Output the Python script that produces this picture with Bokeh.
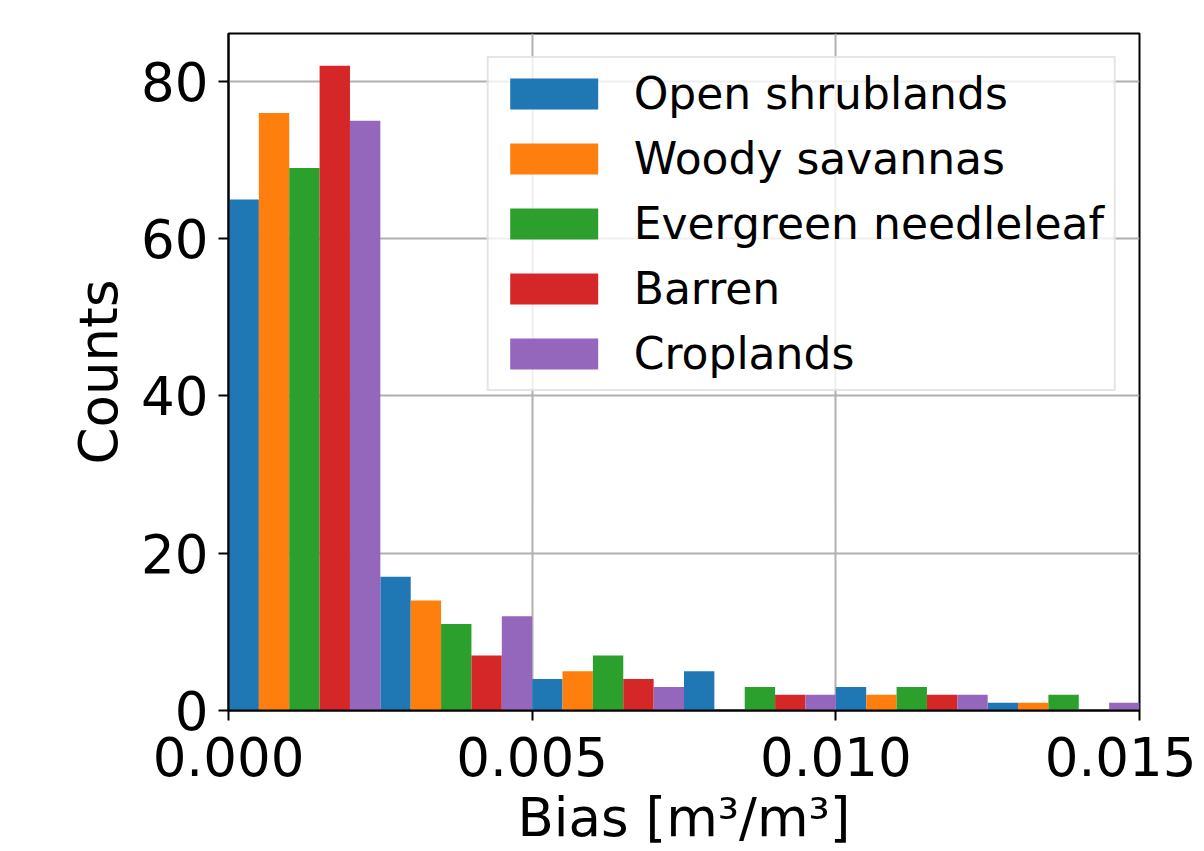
from bokeh.plotting import figure
from bokeh.models import Range1d, FixedTicker, PrintfTickFormatter, Legend, LegendItem, Label
from bokeh.embed import file_html
from bokeh.resources import INLINE

# ---- data ----
bin_edges = [0.0, 0.0025, 0.005, 0.0075, 0.01, 0.0125, 0.015]
series_names = ["Open shrublands", "Woody savannas", "Evergreen needleleaf", "Barren", "Croplands"]
open_shrublands = [65, 17, 4, 5, 3, 1]
woody_savannas = [76, 14, 5, 0, 2, 1]
evergreen_needleleaf = [69, 11, 7, 3, 3, 2]
barren = [82, 7, 4, 2, 2, 0]
croplands = [75, 12, 3, 2, 2, 1]
colors = ["#1f77b4", "#ff7f0e", "#2ca02c", "#d62728", "#9467bd"]
x_ticks = [0.0, 0.005, 0.010, 0.015]
y_ticks = [0, 20, 40, 60, 80]

series = [open_shrublands, woody_savannas, evergreen_needleleaf, barren, croplands]

FONT = "DejaVu Sans"

p = figure(frame_width=911, frame_height=677, output_backend="svg", toolbar_location=None,
           x_range=Range1d(0, 0.015), y_range=Range1d(0, 86.1),
           min_border_left=228, min_border_right=57, min_border_top=33, min_border_bottom=120)

n = len(series)
items = []
for i, (name, vals, c) in enumerate(zip(series_names, series, colors)):
    lefts, rights = [], []
    for k in range(len(vals)):
        bw = (bin_edges[k + 1] - bin_edges[k]) / n
        lefts.append(bin_edges[k] + i * bw)
        rights.append(bin_edges[k] + (i + 1) * bw)
    r = p.quad(left=lefts, right=rights, bottom=0, top=vals, fill_color=c, line_color=None)
    items.append(LegendItem(label=name, renderers=[r]))

# grid
p.xgrid.grid_line_color = "#b0b0b0"
p.ygrid.grid_line_color = "#b0b0b0"
p.xgrid.grid_line_width = 2
p.ygrid.grid_line_width = 2
p.xgrid.ticker = FixedTicker(ticks=x_ticks)
p.ygrid.ticker = FixedTicker(ticks=y_ticks)

# axes
p.xaxis.ticker = FixedTicker(ticks=x_ticks)
p.yaxis.ticker = FixedTicker(ticks=y_ticks)
p.xaxis.formatter = PrintfTickFormatter(format="%.3f")
p.xaxis.axis_label = "Bias [m³/m³]"
p.yaxis.axis_label = "Counts"
for ax in (p.xaxis[0], p.yaxis[0]):
    ax.axis_line_color = "black"
    ax.axis_line_width = 2
    ax.major_tick_line_color = "black"
    ax.major_tick_line_width = 2
    ax.major_tick_out = 10
    ax.major_tick_in = 0
    ax.minor_tick_line_color = None
    ax.major_label_text_font = FONT
    ax.major_label_text_font_size = "53px"
    ax.major_label_text_color = "black"
    ax.axis_label_text_font = FONT
    ax.axis_label_text_font_size = "53px"
    ax.axis_label_text_font_style = "normal"
    ax.axis_label_text_color = "black"
p.xaxis.major_label_standoff = 16
p.yaxis.major_label_standoff = 10
p.xaxis.axis_label_standoff = 8
p.yaxis.axis_label_standoff = 9

p.outline_line_color = "black"
p.outline_line_width = 2
p.outline_line_alpha = 1.0

legend = Legend(items=items, location="top_right")
legend.label_text_font = FONT
legend.label_text_font_size = "44px"
legend.label_text_color = "black"
legend.glyph_width = 110
legend.glyph_height = 39
legend.label_standoff = 25
legend.label_height = 43
legend.spacing = 14
legend.padding = 10
legend.margin = 23
legend.border_line_color = "#cccccc"
legend.border_line_width = 2
legend.background_fill_alpha = 0.8
p.add_layout(legend)

# small dark-red marks at the far left edge (cropped remnants in the reference)
for ybot in (344, 248):
    p.add_layout(Label(x=-225, y=ybot, x_units="screen", y_units="screen", text=" ",
                       text_font_size="1px", padding=3, background_fill_color="#a00000",
                       text_color="#a00000"))

open("out.html", "w").write(file_html(p, INLINE))
